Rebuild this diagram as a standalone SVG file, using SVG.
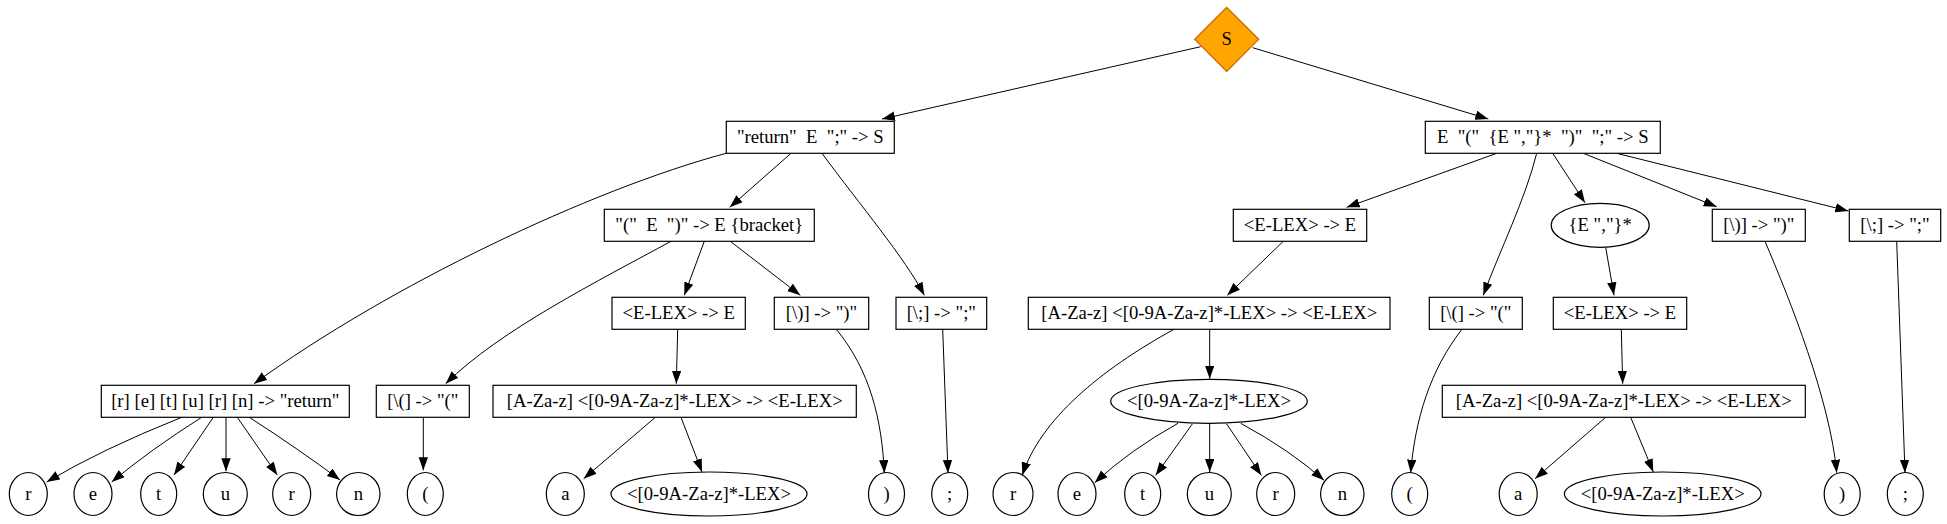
<svg xmlns="http://www.w3.org/2000/svg" width="1947" height="524" viewBox="0 0 1947 524">
<style>
text{font-family:"Liberation Serif","Times New Roman",serif;font-size:18.67px;fill:#000;text-anchor:middle;white-space:pre}
.n rect,.n ellipse{fill:#fff;stroke:#000;stroke-width:1.2}
.e path{fill:none;stroke:#000;stroke-width:1;marker-end:url(#ah)}
</style>
<defs>
<marker id="ah" markerUnits="userSpaceOnUse" markerWidth="14" markerHeight="10" refX="13" refY="4.7" orient="auto">
<path d="M0,0 L13,4.7 L0,9.4 z" fill="#000"/>
</marker>
</defs>
<rect width="1947" height="524" fill="#fff"/>
<g class="e" id="edges">
<path d="M1200.7,46.7 L882,119"/>
<path d="M1252.7,47.7 L1488.3,119"/>
<path d="M726,153.3 C590,190 390,285 254,383.7"/>
<path d="M791,153.3 L729.7,207.3"/>
<path d="M822,153.3 C860,205 905,258 924.3,295.3"/>
<path d="M671,241.3 C600,280 500,330 445.7,383.7"/>
<path d="M704.3,241.3 L684.3,295.3"/>
<path d="M730.3,241.3 L800.3,295.3"/>
<path d="M677.7,329.3 L676.3,383.7"/>
<path d="M836.3,329.3 C870,370 882,420 884.3,473"/>
<path d="M942.7,329.3 L948,473"/>
<path d="M655.3,417.3 L583.7,478.7"/>
<path d="M681,417.3 L702,472"/>
<path d="M181.7,417.3 Q100,450 46.7,482"/>
<path d="M201.7,417.3 Q150,450 111.7,482"/>
<path d="M213.3,417.3 L174,475"/>
<path d="M226,417.3 L226,471.3"/>
<path d="M237.3,417.3 L277.3,475"/>
<path d="M249.3,417.3 Q300,450 340,480"/>
<path d="M423.3,417.3 L423.3,470.3"/>
<path d="M1496.7,153.3 L1346.7,207.3"/>
<path d="M1536.7,153.3 C1525,200 1500,250 1483.3,295.3"/>
<path d="M1552.7,153.3 L1585,202.7"/>
<path d="M1583.3,153.3 L1716.7,206.7"/>
<path d="M1616.7,153.3 L1848.3,211"/>
<path d="M1283.3,241.3 L1227.3,295.3"/>
<path d="M1605.7,247.3 L1614,295.3"/>
<path d="M1765,241.3 C1790,300 1830,400 1836.7,472.7"/>
<path d="M1896.7,241.3 L1905,472.7"/>
<path d="M1174,329.3 C1100,370 1040,420 1022.3,475.3"/>
<path d="M1209.7,329.3 L1209.7,378.7"/>
<path d="M1178,423.3 Q1130,450 1094.7,482.7"/>
<path d="M1192.3,424 L1155.7,475.3"/>
<path d="M1209.7,424 L1209.7,472"/>
<path d="M1226.7,424 L1261.3,475.3"/>
<path d="M1240.7,423.3 Q1290,450 1324,480.3"/>
<path d="M1462,329.3 C1430,370 1415,420 1410.7,472.7"/>
<path d="M1621.3,329.3 L1622.7,383.7"/>
<path d="M1605.7,417.3 L1535,478.7"/>
<path d="M1630.7,417.3 L1653.3,472"/>
</g>
<g class="n" id="S"><polygon points="1226.7,7.3 1258.7,39.3 1226.7,71.3 1194.7,39.3" fill="#ffa500" stroke="#c85f00" stroke-width="1.2"/><text x="1226.7" y="45">S</text></g>
<g class="n" id="ret"><rect x="726.3" y="121.3" width="168" height="32"/><text x="810.3" y="142.8">"return"  E  ";" -&gt; S</text></g>
<g class="n" id="call"><rect x="1425.3" y="121.3" width="235" height="32"/><text x="1542.8" y="142.8">E  "("  {E ","}*  ")"  ";" -&gt; S</text></g>
<g class="n" id="bracket"><rect x="604.3" y="209.3" width="210" height="32"/><text x="709.3" y="230.8">"("  E  ")" -&gt; E {bracket}</text></g>
<g class="n" id="elexR"><rect x="1233.3" y="209.3" width="133.4" height="32"/><text x="1300" y="230.8">&lt;E-LEX&gt; -&gt; E</text></g>
<g class="n" id="rep"><ellipse cx="1600.2" cy="225.3" rx="49" ry="22"/><text x="1600.2" y="230.8">{E ","}*</text></g>
<g class="n" id="rparR"><rect x="1712.3" y="209.3" width="93" height="32"/><text x="1758.8" y="230.8">[\)] -&gt; ")"</text></g>
<g class="n" id="semiR"><rect x="1849.3" y="209.3" width="91.4" height="32"/><text x="1895" y="230.8">[\;] -&gt; ";"</text></g>
<g class="n" id="elexL"><rect x="612" y="297.3" width="133.3" height="32"/><text x="678.7" y="318.8">&lt;E-LEX&gt; -&gt; E</text></g>
<g class="n" id="rparL"><rect x="774.3" y="297.3" width="94.4" height="32"/><text x="821.5" y="318.8">[\)] -&gt; ")"</text></g>
<g class="n" id="semiL"><rect x="896" y="297.3" width="90.7" height="32"/><text x="941.3" y="318.8">[\;] -&gt; ";"</text></g>
<g class="n" id="azM"><rect x="1028.3" y="297.3" width="361.7" height="32"/><text x="1209.2" y="318.8">[A-Za-z] &lt;[0-9A-Za-z]*-LEX&gt; -&gt; &lt;E-LEX&gt;</text></g>
<g class="n" id="lparR"><rect x="1429.3" y="297.3" width="93" height="32"/><text x="1475.8" y="318.8">[\(] -&gt; "("</text></g>
<g class="n" id="elexR2"><rect x="1553.3" y="297.3" width="133.4" height="32"/><text x="1620" y="318.8">&lt;E-LEX&gt; -&gt; E</text></g>
<g class="n" id="retlex"><rect x="101.3" y="385.3" width="248" height="32"/><text x="225.3" y="406.8">[r] [e] [t] [u] [r] [n] -&gt; "return"</text></g>
<g class="n" id="lparL"><rect x="376.3" y="385.3" width="93" height="32"/><text x="422.8" y="406.8">[\(] -&gt; "("</text></g>
<g class="n" id="azL"><rect x="493" y="385.3" width="363.3" height="32"/><text x="674.7" y="406.8">[A-Za-z] &lt;[0-9A-Za-z]*-LEX&gt; -&gt; &lt;E-LEX&gt;</text></g>
<g class="n" id="lexM"><ellipse cx="1209" cy="401.3" rx="98.3" ry="22"/><text x="1209" y="406.8">&lt;[0-9A-Za-z]*-LEX&gt;</text></g>
<g class="n" id="azR"><rect x="1442.3" y="385.3" width="363" height="32"/><text x="1623.8" y="406.8">[A-Za-z] &lt;[0-9A-Za-z]*-LEX&gt; -&gt; &lt;E-LEX&gt;</text></g>
<g class="n" id="l1"><ellipse cx="28.3" cy="494" rx="19" ry="21.5"/><text x="28.3" y="499.5">r</text></g>
<g class="n" id="l2"><ellipse cx="93" cy="494" rx="19" ry="21.5"/><text x="93" y="499.5">e</text></g>
<g class="n" id="l3"><ellipse cx="158.7" cy="494" rx="18" ry="21.5"/><text x="158.7" y="499.5">t</text></g>
<g class="n" id="l4"><ellipse cx="225.3" cy="494" rx="22" ry="21.5"/><text x="225.3" y="499.5">u</text></g>
<g class="n" id="l5"><ellipse cx="291.7" cy="494" rx="19" ry="21.5"/><text x="291.7" y="499.5">r</text></g>
<g class="n" id="l6"><ellipse cx="358.3" cy="494" rx="21.7" ry="21.5"/><text x="358.3" y="499.5">n</text></g>
<g class="n" id="l7"><ellipse cx="425.3" cy="494" rx="18" ry="21.5"/><text x="425.3" y="499.5">(</text></g>
<g class="n" id="l8"><ellipse cx="565.3" cy="494" rx="19" ry="21.5"/><text x="565.3" y="499.5">a</text></g>
<g class="n" id="l9"><ellipse cx="709" cy="494" rx="98" ry="22"/><text x="709" y="499.5">&lt;[0-9A-Za-z]*-LEX&gt;</text></g>
<g class="n" id="l10"><ellipse cx="886.5" cy="494" rx="18" ry="21.5"/><text x="886.5" y="499.5">)</text></g>
<g class="n" id="l11"><ellipse cx="949.7" cy="494" rx="18" ry="21.5"/><text x="949.7" y="499.5">;</text></g>
<g class="n" id="m1"><ellipse cx="1013" cy="494" rx="20" ry="21.5"/><text x="1013" y="499.5">r</text></g>
<g class="n" id="m2"><ellipse cx="1077" cy="494" rx="19" ry="21.5"/><text x="1077" y="499.5">e</text></g>
<g class="n" id="m3"><ellipse cx="1142.7" cy="494" rx="18" ry="21.5"/><text x="1142.7" y="499.5">t</text></g>
<g class="n" id="m4"><ellipse cx="1209.3" cy="494" rx="22" ry="21.5"/><text x="1209.3" y="499.5">u</text></g>
<g class="n" id="m5"><ellipse cx="1275.7" cy="494" rx="19" ry="21.5"/><text x="1275.7" y="499.5">r</text></g>
<g class="n" id="m6"><ellipse cx="1342.3" cy="494" rx="21.7" ry="21.5"/><text x="1342.3" y="499.5">n</text></g>
<g class="n" id="m7"><ellipse cx="1409.7" cy="494" rx="18" ry="21.5"/><text x="1409.7" y="499.5">(</text></g>
<g class="n" id="r1"><ellipse cx="1518.2" cy="494" rx="19" ry="21.5"/><text x="1518.2" y="499.5">a</text></g>
<g class="n" id="r2"><ellipse cx="1662.7" cy="494" rx="98.3" ry="22"/><text x="1662.7" y="499.5">&lt;[0-9A-Za-z]*-LEX&gt;</text></g>
<g class="n" id="r3"><ellipse cx="1842.2" cy="494" rx="18" ry="21.5"/><text x="1842.2" y="499.5">)</text></g>
<g class="n" id="r4"><ellipse cx="1905.3" cy="494" rx="18" ry="21.5"/><text x="1905.3" y="499.5">;</text></g>
</svg>
